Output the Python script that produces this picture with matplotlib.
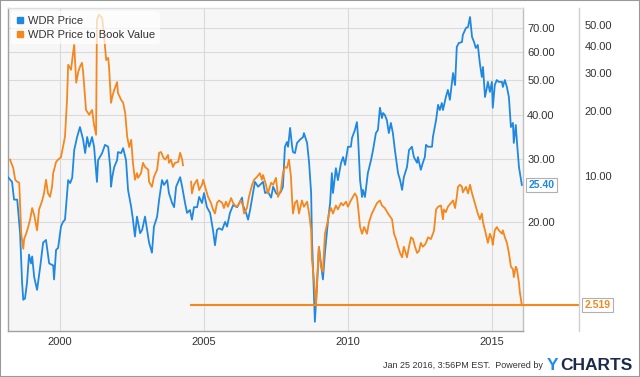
import numpy as np
import matplotlib
matplotlib.use('Agg')
import matplotlib.pyplot as plt
from matplotlib.lines import Line2D
from matplotlib.patches import Rectangle
from matplotlib.ticker import NullLocator, NullFormatter

plt.rcParams['font.family'] = ['Liberation Sans', 'DejaVu Sans']

# WDR Price (right axis, log scale)
price_years = [
    1998.19, 1998.33, 1998.40, 1998.51, 1998.61, 1998.68, 1998.72, 1998.78, 1998.85, 1998.92,
    1998.99, 1999.03, 1999.10, 1999.20, 1999.31, 1999.41, 1999.51, 1999.62, 1999.76, 1999.79,
    1999.86, 1999.93, 2000.03, 2000.10, 2000.17, 2000.28, 2000.35, 2000.42, 2000.49, 2000.59,
    2000.69, 2000.80, 2000.87, 2000.94, 2001.01, 2001.11, 2001.18, 2001.28, 2001.32, 2001.46,
    2001.56, 2001.67, 2001.74, 2001.77, 2001.81, 2001.88, 2001.98, 2002.01, 2002.12, 2002.19,
    2002.29, 2002.36, 2002.47, 2002.53, 2002.60, 2002.67, 2002.78, 2002.85, 2002.95, 2003.02,
    2003.09, 2003.19, 2003.26, 2003.37, 2003.44, 2003.54, 2003.61, 2003.72, 2003.78, 2003.89,
    2003.96, 2004.03, 2004.10, 2004.17, 2004.24, 2004.34, 2004.41, 2004.51, 2004.58, 2004.65,
    2004.76, 2004.83, 2004.93, 2005.00, 2005.10, 2005.21, 2005.31, 2005.38, 2005.45, 2005.52,
    2005.63, 2005.73, 2005.80, 2005.90, 2006.01, 2006.15, 2006.25, 2006.32, 2006.35, 2006.46,
    2006.53, 2006.60, 2006.70, 2006.77, 2006.88, 2006.94, 2007.05, 2007.12, 2007.22, 2007.33,
    2007.40, 2007.50, 2007.57, 2007.67, 2007.74, 2007.81, 2007.88, 2007.92, 2007.99, 2008.06,
    2008.09, 2008.16, 2008.23, 2008.33, 2008.44, 2008.47, 2008.58, 2008.65, 2008.72, 2008.75,
    2008.78, 2008.85, 2008.92, 2008.99, 2009.06, 2009.13, 2009.20, 2009.31, 2009.38, 2009.44,
    2009.48, 2009.58, 2009.65, 2009.76, 2009.83, 2009.90, 2010.00, 2010.10, 2010.14, 2010.24,
    2010.31, 2010.35, 2010.42, 2010.49, 2010.52, 2010.59, 2010.69, 2010.80, 2010.87, 2010.97,
    2011.04, 2011.11, 2011.18, 2011.22, 2011.28, 2011.35, 2011.42, 2011.49, 2011.56, 2011.63,
    2011.74, 2011.81, 2011.88, 2011.94, 2012.05, 2012.12, 2012.22, 2012.29, 2012.40, 2012.43,
    2012.53, 2012.60, 2012.67, 2012.71, 2012.78, 2012.92, 2012.95, 2013.06, 2013.13, 2013.19,
    2013.26, 2013.30, 2013.40, 2013.47, 2013.54, 2013.61, 2013.65, 2013.72, 2013.78, 2013.85,
    2013.96, 2013.99, 2014.10, 2014.17, 2014.24, 2014.31, 2014.38, 2014.44, 2014.51, 2014.58,
    2014.65, 2014.69, 2014.76, 2014.83, 2014.86, 2014.93, 2015.00, 2015.03, 2015.10, 2015.17,
    2015.24, 2015.35, 2015.38, 2015.45, 2015.52, 2015.59, 2015.66, 2015.73, 2015.76, 2015.83,
    2015.87, 2015.94, 2016.04,
]
price_vals = [
    26.7, 25.9, 23.1, 23.1, 18.6, 13.5, 12.1, 12.2, 13.5, 16.2,
    15.3, 16.0, 14.0, 12.9, 15.0, 17.5, 17.8, 15.3, 15.1, 13.8,
    16.7, 16.9, 19.4, 20.0, 20.3, 26.2, 25.7, 26.6, 31.8, 34.6,
    36.9, 34.0, 31.2, 34.6, 32.5, 34.6, 32.5, 25.9, 29.8, 31.2,
    32.9, 32.5, 28.5, 25.1, 26.7, 28.5, 29.8, 31.4, 31.2, 32.2,
    29.8, 24.6, 22.0, 20.3, 18.2, 20.7, 18.6, 19.0, 20.7, 19.0,
    17.5, 16.4, 19.4, 20.7, 23.1, 26.2, 25.4, 26.2, 24.1, 22.6,
    22.0, 25.1, 25.9, 26.7, 25.1, 22.6, 21.2, 21.6, 20.3, 22.0,
    22.0, 23.5, 22.6, 24.1, 22.0, 21.2, 19.0, 17.2, 19.0, 19.2,
    19.0, 20.0, 19.4, 21.2, 22.3, 22.0, 22.8, 23.4, 22.3, 21.2,
    20.3, 21.6, 24.1, 25.9, 25.1, 25.4, 25.9, 24.1, 24.3, 23.4,
    25.1, 24.1, 23.8, 24.3, 25.1, 32.5, 33.5, 32.5, 36.7, 32.5,
    31.4, 31.2, 33.3, 34.0, 34.6, 35.5, 33.3, 29.3, 24.1, 17.8,
    15.3, 10.5, 13.1, 17.0, 15.3, 13.8, 16.4, 20.3, 22.6, 27.4,
    24.1, 28.3, 26.2, 29.3, 30.4, 28.9, 32.5, 32.5, 34.4, 36.2,
    38.1, 34.6, 26.2, 23.5, 24.6, 23.5, 27.4, 29.8, 31.8, 35.5,
    36.2, 41.8, 39.1, 40.4, 39.9, 38.6, 35.5, 37.9, 35.5, 31.8,
    27.4, 26.2, 24.6, 26.7, 28.5, 31.8, 32.5, 30.4, 29.3, 30.4,
    28.0, 29.3, 30.4, 32.9, 32.5, 32.5, 34.6, 38.6, 42.6, 41.2,
    43.1, 41.2, 44.8, 46.9, 44.0, 49.1, 52.3, 48.4, 61.9, 63.5,
    63.9, 66.9, 70.0, 70.4, 75.1, 66.0, 63.9, 61.5, 62.7, 55.8,
    51.0, 54.4, 44.8, 47.8, 49.4, 46.3, 49.4, 41.8, 48.4, 50.0,
    49.4, 49.4, 47.8, 50.0, 47.8, 44.8, 36.9, 37.9, 33.3, 37.4,
    33.5, 28.5, 25.40,
]

# WDR Price to Book Value (second right axis, log scale); nan = gap in the series
pb_years = [
    1998.26, 1998.37, 1998.44, 1998.51, 1998.58, 1998.65, 1998.72, 1998.75, 1998.82, 1998.89,
    1998.96, 1999.03, 1999.10, 1999.20, 1999.27, 1999.38, 1999.44, 1999.51, 1999.58, 1999.65,
    1999.72, 1999.76, 1999.86, 1999.93, 2000.03, 2000.10, 2000.17, 2000.24, 2000.28, 2000.38,
    2000.45, 2000.49, 2000.56, 2000.63, 2000.69, 2000.76, 2000.80, 2000.90, 2001.01, 2001.11,
    2001.18, 2001.25, 2001.28, 2001.35, 2001.46, 2001.53, 2001.60, 2001.67, 2001.70, 2001.77,
    2001.81, 2001.88, 2001.98, 2002.01, 2002.12, 2002.19, 2002.26, 2002.33, 2002.40, 2002.47,
    2002.53, 2002.60, 2002.67, 2002.71, 2002.81, 2002.88, 2002.95, 2003.06, 2003.09, 2003.19,
    2003.26, 2003.37, 2003.44, 2003.51, 2003.58, 2003.65, 2003.75, 2003.78, 2003.85, 2003.92,
    2003.99, 2004.10, 2004.17, 2004.24, 2004.27, 2004.40,
    2004.55, 2004.58, 2004.65, 2004.76, 2004.83, 2004.93, 2004.97, 2005.07, 2005.14, 2005.24,
    2005.31, 2005.38, 2005.45, 2005.52, 2005.63, 2005.69, 2005.76, 2005.83, 2005.94, 2006.01,
    2006.11, 2006.18, 2006.28, 2006.35, 2006.39, 2006.49, 2006.56, 2006.67, 2006.74, 2006.84,
    2006.94, 2007.01, 2007.05, 2007.15, 2007.22, 2007.33, 2007.40, 2007.50, 2007.57, 2007.67,
    2007.74, 2007.81, 2007.88, 2007.95, 2008.02, 2008.06, 2008.09, 2008.16, 2008.23, 2008.30,
    2008.40, 2008.47, 2008.58, 2008.65, 2008.72, 2008.75, 2008.82, 2008.85, 2008.89, 2008.92,
    2008.99, 2009.06, 2009.13, 2009.20, 2009.31, 2009.34, 2009.41, 2009.48, 2009.58, 2009.65,
    2009.76, 2009.83, 2009.93, 2010.00, 2010.10, 2010.17, 2010.24, 2010.31, 2010.35, 2010.42,
    2010.49, 2010.56, 2010.66, 2010.73, 2010.83, 2010.90, 2011.01, 2011.11, 2011.18, 2011.28,
    2011.39, 2011.46, 2011.53, 2011.60, 2011.67, 2011.74, 2011.81, 2011.88, 2011.94, 2012.05,
    2012.12, 2012.19, 2012.26, 2012.33, 2012.40, 2012.47, 2012.53, 2012.60, 2012.67, 2012.71,
    2012.78, 2012.88, 2012.95, 2012.99, 2013.06, 2013.13, 2013.23, 2013.30, 2013.33, 2013.40,
    2013.47, 2013.58, 2013.65, 2013.72, 2013.78, 2013.82, 2013.89, 2013.96, 2013.99, 2014.10,
    2014.17, 2014.24, 2014.31, 2014.38, 2014.44, 2014.51, 2014.58, 2014.65, 2014.69, 2014.76,
    2014.83, 2014.86, 2014.93, 2015.00, 2015.03, 2015.10, 2015.17, 2015.24, 2015.35, 2015.38,
    2015.45, 2015.52, 2015.59, 2015.66, 2015.73, 2015.76, 2015.83, 2015.87, 2015.94, 2015.97,
    2016.04,
]
pb_vals = [
    11.9, 10.9, 9.6, 9.4, 9.3, 5.4, 4.6, 5.1, 5.4, 5.8,
    6.3, 7.1, 6.6, 5.6, 7.0, 7.7, 8.3, 9.6, 8.3, 8.0,
    8.9, 10.3, 11.6, 11.9, 12.2, 13.6, 15.2, 22.5, 32.7, 31.0,
    37.1, 40.4, 27.0, 30.3, 32.0, 33.4, 30.3, 20.2, 19.2, 20.2,
    17.2, 15.5, 52.8, 55.7, 53.9, 44.0, 34.4, 35.2, 32.0, 21.8,
    23.2, 25.0, 27.2, 24.2, 22.5, 21.8, 19.6, 15.2, 13.6, 14.7,
    11.5, 9.6, 10.3, 9.8, 10.3, 11.5, 11.0, 10.7, 9.4, 8.9,
    9.9, 10.7, 12.8, 12.9, 12.2, 11.9, 12.5, 11.5, 11.9, 11.0,
    11.5, 11.6, 12.8, 11.9, 11.2, np.nan,
    9.4, 8.3, 9.1, 9.6, 8.6, 9.1, 9.6, 8.6, 8.0, 7.5,
    7.0, 6.7, 7.5, 7.7, 7.5, 7.1, 7.6, 7.2, 7.9, 7.5,
    7.2, 7.3, 7.7, 7.3, 6.7, 7.1, 8.0, 9.1, 9.6, 9.9,
    10.3, 9.6, 10.1, 9.1, 8.3, 9.3, 9.1, 9.8, 8.0, 8.6,
    10.3, 11.0, 10.9, 11.9, 9.9, 7.7, 6.7, 7.5, 7.7, 6.7,
    7.7, 7.2, 7.6, 6.7, 5.6, 4.1, 3.3, 2.9, 2.5, 3.1,
    4.7, 3.8, 3.6, 5.4, 6.3, 6.7, 7.1, 6.7, 7.3, 7.0,
    7.5, 7.3, 7.6, 7.2, 7.7, 8.0, 8.3, 8.0, 7.2, 5.8,
    5.4, 5.8, 5.4, 6.1, 6.7, 7.0, 7.5, 7.7, 7.3, 7.1,
    6.7, 6.5, 6.3, 5.4, 5.1, 4.7, 4.4, 4.2, 4.7, 4.2,
    4.7, 5.2, 5.1, 4.7, 4.4, 4.5, 4.9, 4.7, 4.8, 4.9,
    5.2, 5.1, 5.4, 5.6, 7.0, 7.2, 7.3, 6.3, 7.0, 6.8,
    7.2, 7.5, 7.7, 7.1, 8.0, 8.9, 9.1, 8.9, 8.4, 8.9,
    8.3, 9.1, 8.3, 7.7, 7.2, 6.7, 6.3, 6.7, 6.1, 5.6,
    5.1, 4.9, 5.4, 5.1, 4.8, 5.6, 5.8, 5.6, 5.4, 5.6,
    5.2, 4.9, 4.4, 3.8, 3.7, 3.4, 3.8, 3.7, 3.2, 2.9,
    2.519,
]

price_ticks = [20, 30, 40, 50, 60, 70]
pb_ticks = [10, 20, 30, 40, 50]
year_ticks = [2000, 2005, 2010, 2015]

BLUE = '#2088e0'
ORANGE = '#f5871f'
TXT = '#333333'

fig = plt.figure(figsize=(6.4, 3.77), dpi=100)
fig.patch.set_facecolor('white')

ax = fig.add_axes([8 / 640, 46 / 377, 515 / 640, 323 / 377])
ax2 = ax.twinx()

ax.set_facecolor('#f6f6f6')
ax.plot(price_years, price_vals, color=BLUE, lw=1.3, zorder=3)
ax.set_yscale('log')
ax.set_xlim(1998.19, 2016.08)
ax.set_ylim(9.89, 79.6)
ax.set_yticks(price_ticks)
ax.set_yticklabels([f'{t:.2f}' for t in price_ticks])
ax.yaxis.set_minor_locator(NullLocator())
ax.yaxis.set_minor_formatter(NullFormatter())
ax.yaxis.tick_right()
ax.set_xticks(year_ticks)
ax.set_xticklabels([str(y) for y in year_ticks])
ax.tick_params(axis='y', which='both', left=False, labelleft=False, right=False,
               labelright=True, length=0, pad=3, labelsize=8, labelcolor=TXT)
ax.tick_params(axis='x', length=0, pad=4, labelsize=8, labelcolor=TXT)
ax.grid(color='#dadada', lw=0.8)
ax.set_axisbelow(True)
ax.spines['left'].set_color('#a0a0a0')
ax.spines['bottom'].set_color('#a0a0a0')
ax.spines['top'].set_color('#dddddd')
ax.spines['right'].set_color('#c0c0c0')
for s in ax.spines.values():
    s.set_linewidth(1.0)

ax2.plot(pb_years, pb_vals, color=ORANGE, lw=1.3, zorder=2)
ax2.set_yscale('log')
ax2.set_ylim(1.915, 59.9)
ax2.set_yticks(pb_ticks)
ax2.set_yticklabels([f'{t:.2f}' for t in pb_ticks])
ax2.yaxis.set_minor_locator(NullLocator())
ax2.yaxis.set_minor_formatter(NullFormatter())
ax2.tick_params(axis='y', length=0, pad=4, labelsize=8, labelcolor=TXT)
for side in ['left', 'top', 'bottom']:
    ax2.spines[side].set_visible(False)
right_pos = (579 - 8) / 515
ax2.spines['right'].set_position(('axes', right_pos))
ax2.spines['right'].set_color('#d0d0d0')
ax2.spines['right'].set_linewidth(1.0)

# last-value line for price to book, from where the series resumes after its gap
pb_arr = np.array(pb_vals)
gap = int(np.where(np.isnan(pb_arr))[0][0])
x0 = (pb_years[gap + 1] - 1998.19) / (2016.08 - 1998.19)
ax2.axhline(pb_vals[-1], xmin=x0, xmax=right_pos, color=ORANGE, lw=1.5, clip_on=False, zorder=2)

ax2.annotate(f'{price_vals[-1]:.2f}', xy=(1, np.exp(np.interp(np.log(price_vals[-1]),
             np.log([9.89, 79.6]), np.log([1.915, 59.9])))),
             xycoords=('axes fraction', 'data'),
             xytext=(4, 0), textcoords='offset points', ha='left', va='center',
             fontsize=7.5, fontweight='bold', color=BLUE, annotation_clip=False,
             bbox=dict(boxstyle='square,pad=0.2', fc='white', ec='#b0b0b0', lw=0.8))
ax2.annotate(f'{pb_vals[-1]:.3f}', xy=(right_pos, pb_vals[-1]), xycoords=('axes fraction', 'data'),
             xytext=(4, 0), textcoords='offset points', ha='left', va='center',
             fontsize=7.5, fontweight='bold', color=ORANGE, annotation_clip=False,
             bbox=dict(boxstyle='square,pad=0.2', fc='white', ec='#b0b0b0', lw=0.8))

handles = [Line2D([], [], marker='s', ls='', color=BLUE, markersize=5),
           Line2D([], [], marker='s', ls='', color=ORANGE, markersize=5)]
leg = ax2.legend(handles, ['WDR Price', 'WDR Price to Book Value'], loc='upper left',
                 bbox_to_anchor=(0, 1), borderaxespad=0.3, fontsize=8, frameon=True,
                 handlelength=0.7, handletextpad=0.4, labelspacing=0.35, borderpad=0.4)
leg.get_frame().set_facecolor('white')
leg.get_frame().set_edgecolor('none')
leg.get_frame().set_alpha(0.7)
for t in leg.get_texts():
    t.set_color(TXT)

fig.text(543 / 640, 1 - 366 / 377, 'Jan 25 2016, 3:56PM EST.  Powered by', ha='right',
         va='center', fontsize=6.5, color=TXT)
fig.text(547 / 640, 1 - 365 / 377, 'Y', ha='left', va='center', fontsize=12.5,
         fontweight='bold', color='#1f8ce6')
fig.text(560 / 640, 1 - 365 / 377, 'CHARTS', ha='left', va='center', fontsize=12.5,
         fontweight='bold', color='#1b2a4a')

fig.patches.append(Rectangle((0, 0), 1, 1, transform=fig.transFigure, fill=False,
                             ec='#999999', lw=1.5))

fig.savefig('out.png', dpi=100)
